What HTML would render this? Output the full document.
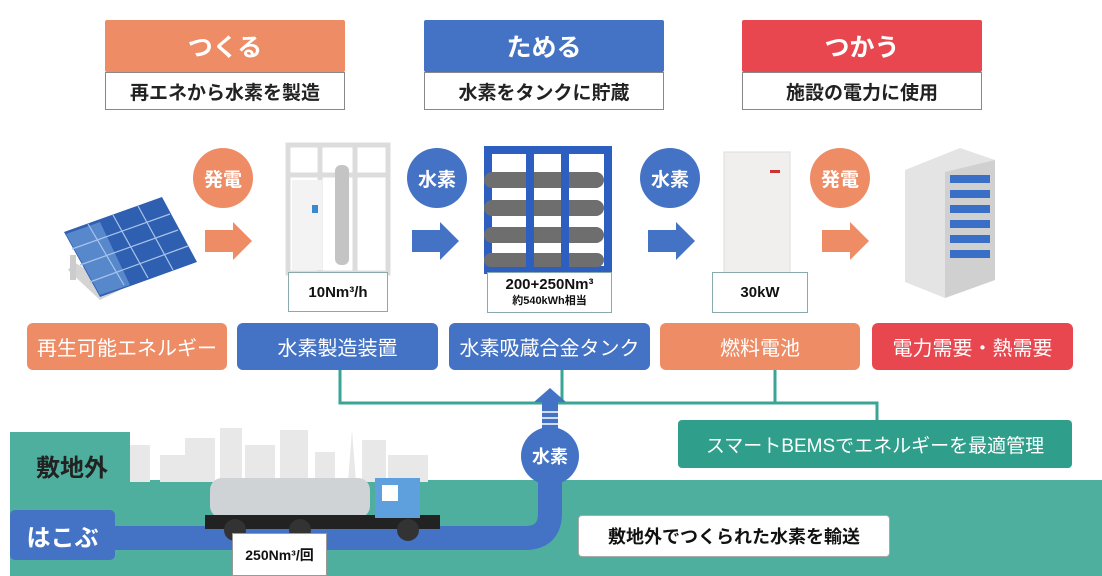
<!DOCTYPE html>
<html><head><meta charset="utf-8"><style>
*{margin:0;padding:0;box-sizing:border-box}
body{width:1102px;height:576px;background:#fff;position:relative;overflow:hidden;font-family:"Liberation Sans","Noto Sans CJK JP",sans-serif}
.a{position:absolute;display:flex;align-items:center;justify-content:center;text-align:center}
.hd{color:#fff;font-size:25px;font-weight:bold;border-radius:2px}
.sub{background:#fff;border:1.5px solid #888;font-size:19px;font-weight:bold;color:#222}
.lb{color:#fff;font-size:20px;border-radius:6px}
.sp{background:#fff;border:1.5px solid #8aa;font-weight:bold;font-size:15px;color:#111}
.c{border-radius:50%;color:#fff;font-size:19px;font-weight:bold}
</style></head><body>
<svg width="1102" height="576" style="position:absolute;left:0;top:0">
<rect x="10" y="432" width="120" height="144" fill="#4eaf9e"/>
<rect x="10" y="480" width="1092" height="96" fill="#4eaf9e"/>
<g fill="#e8e8e8">
<rect x="130" y="445" width="20" height="37"/><rect x="160" y="455" width="25" height="27"/><rect x="185" y="438" width="30" height="44"/><rect x="220" y="428" width="22" height="54"/><rect x="245" y="445" width="30" height="37"/><rect x="280" y="430" width="28" height="52"/><rect x="315" y="452" width="20" height="30"/><polygon points="348,482 352,430 356,482"/><rect x="362" y="440" width="24" height="42"/><rect x="388" y="455" width="40" height="27"/>
</g>
<g stroke="#3aa596" stroke-width="3" fill="none">
<path d="M340 370 V403 H877 V422"/><path d="M562 370 V403"/><path d="M775 370 V403"/>
</g>
<polygon points="550,388 566,402 558,402 558,430 542,430 542,402 534,402" fill="#4472c4"/>
<g stroke="#fff" stroke-width="1.5"><line x1="542" y1="412" x2="558" y2="412"/><line x1="542" y1="418" x2="558" y2="418"/><line x1="542" y1="424" x2="558" y2="424"/></g>
<path d="M110 538 H525 Q550 538 550 513 V470" stroke="#4472c4" stroke-width="24" fill="none"/>
<circle cx="550" cy="456" r="29" fill="#4472c4"/>
<g>
<rect x="205" y="230" width="28" height="22" fill="#ee8c66"/><polygon points="233,222 252,241 233,260" fill="#ee8c66"/>
<rect x="412" y="230" width="28" height="22" fill="#4472c4"/><polygon points="440,222 459,241 440,260" fill="#4472c4"/>
<rect x="648" y="230" width="28" height="22" fill="#4472c4"/><polygon points="676,222 695,241 676,260" fill="#4472c4"/>
<rect x="822" y="230" width="28" height="22" fill="#ee8c66"/><polygon points="850,222 869,241 850,260" fill="#ee8c66"/>
</g>
<!-- solar panel -->
<polygon points="68,270 74,262 120,290 100,300" fill="#d4d4d4"/>
<rect x="70" y="255" width="6" height="25" fill="#ccc"/>
<polygon points="64,232 162,197 197,262 100,297" fill="#2f5fb0"/>
<polygon points="66,234 100,222 130,285 100,295" fill="#6a9ad8" opacity=".7"/>
<g stroke="#a8c4ea" stroke-width="1.2"><line x1="88" y1="224" x2="124" y2="285"/><line x1="113" y1="215" x2="148" y2="278"/><line x1="138" y1="206" x2="173" y2="270"/><line x1="72" y1="249" x2="170" y2="214"/><line x1="80" y1="265" x2="178" y2="230"/><line x1="90" y1="282" x2="188" y2="246"/></g>
<!-- electrolyzer -->
<g fill="none" stroke="#dcdcdc" stroke-width="5">
<rect x="288" y="145" width="100" height="128"/><line x1="320" y1="145" x2="320" y2="273"/><line x1="355" y1="145" x2="355" y2="273"/><line x1="288" y1="175" x2="388" y2="175"/>
</g>
<rect x="292" y="180" width="30" height="90" fill="#f3f3f3"/>
<rect x="335" y="165" width="14" height="100" rx="6" fill="#c4c4c4"/>
<rect x="312" y="205" width="6" height="8" fill="#3a8ad0"/>
<!-- tank -->
<g fill="none" stroke="#2c5fbf" stroke-width="8">
<rect x="488" y="150" width="120" height="120"/><line x1="530" y1="150" x2="530" y2="270"/><line x1="565" y1="150" x2="565" y2="270"/>
</g>
<g fill="#6e6e6e"><rect x="484" y="172" width="120" height="16" rx="8"/><rect x="484" y="200" width="120" height="16" rx="8"/><rect x="484" y="227" width="120" height="16" rx="8"/><rect x="484" y="253" width="120" height="14" rx="7"/></g>
<g fill="#2c5fbf"><rect x="526" y="150" width="8" height="120"/><rect x="561" y="150" width="8" height="120"/></g>
<!-- fuel cell -->
<rect x="724" y="152" width="66" height="122" fill="#f1efed" stroke="#e0dcd8"/>
<rect x="770" y="170" width="10" height="3" fill="#c33"/>
<!-- building -->
<polygon points="905,170 960,148 995,160 995,280 945,298 905,282" fill="#e4e4e4"/>
<polygon points="945,172 995,160 995,280 945,298" fill="#d0d0d0"/>
<g fill="#3a6fc8">
<rect x="950" y="175" width="40" height="8"/><rect x="950" y="190" width="40" height="8"/><rect x="950" y="205" width="40" height="8"/><rect x="950" y="220" width="40" height="8"/><rect x="950" y="235" width="40" height="8"/><rect x="950" y="250" width="40" height="8"/>
</g>
<!-- truck -->
<rect x="210" y="478" width="160" height="40" rx="12" fill="#cfd3d6"/>
<rect x="205" y="515" width="235" height="14" fill="#222"/>
<rect x="375" y="478" width="45" height="40" fill="#5ea0de"/>
<rect x="382" y="485" width="16" height="16" fill="#fff"/>
<g fill="#333"><circle cx="235" cy="530" r="11"/><circle cx="300" cy="530" r="11"/><circle cx="408" cy="530" r="11"/></g>
</svg>

<div class="a hd" style="left:105px;top:20px;width:240px;height:52px;background:#ee8c66">つくる</div>
<div class="a sub" style="left:105px;top:72px;width:240px;height:38px">再エネから水素を製造</div>
<div class="a hd" style="left:424px;top:20px;width:240px;height:52px;background:#4472c4">ためる</div>
<div class="a sub" style="left:424px;top:72px;width:240px;height:38px">水素をタンクに貯蔵</div>
<div class="a hd" style="left:742px;top:20px;width:240px;height:52px;background:#e8474f">つかう</div>
<div class="a sub" style="left:742px;top:72px;width:240px;height:38px">施設の電力に使用</div>

<div class="a c" style="left:193px;top:148px;width:60px;height:60px;background:#ee8c66">発電</div>
<div class="a c" style="left:407px;top:148px;width:60px;height:60px;background:#4472c4">水素</div>
<div class="a c" style="left:640px;top:148px;width:60px;height:60px;background:#4472c4">水素</div>
<div class="a c" style="left:810px;top:148px;width:60px;height:60px;background:#ee8c66">発電</div>

<div class="a sp" style="left:288px;top:272px;width:100px;height:40px">10Nm³/h</div>
<div class="a sp" style="left:487px;top:272px;width:125px;height:41px;flex-direction:column;line-height:17px">200+250Nm³<span style="font-size:11px">約540kWh相当</span></div>
<div class="a sp" style="left:712px;top:272px;width:96px;height:41px">30kW</div>

<div class="a lb" style="left:27px;top:323px;width:200px;height:47px;background:#ee8c66">再生可能エネルギー</div>
<div class="a lb" style="left:237px;top:323px;width:201px;height:47px;background:#4472c4">水素製造装置</div>
<div class="a lb" style="left:449px;top:323px;width:201px;height:47px;background:#4472c4">水素吸蔵合金タンク</div>
<div class="a lb" style="left:660px;top:323px;width:200px;height:47px;background:#ee8c66">燃料電池</div>
<div class="a lb" style="left:872px;top:323px;width:201px;height:47px;background:#e8474f">電力需要・熱需要</div>

<div class="a lb" style="left:678px;top:420px;width:394px;height:48px;background:#2f9e8a;border-radius:4px;font-size:19px">スマートBEMSでエネルギーを最適管理</div>

<div class="a" style="left:22px;top:447px;width:100px;height:36px;font-size:24px;font-weight:bold;color:#222">敷地外</div>
<div class="a" style="left:10px;top:510px;width:105px;height:50px;background:#4472c4;border-radius:5px;color:#fff;font-size:24px;font-weight:bold">はこぶ</div>
<div class="a c" style="left:521px;top:427px;width:58px;height:58px;font-size:18px">水素</div>
<div class="a sp" style="left:232px;top:533px;width:95px;height:43px;font-size:14px;border-color:#999">250Nm³/回</div>
<div class="a sp" style="left:578px;top:515px;width:312px;height:42px;font-size:18px;border-radius:4px;border-color:#aaa">敷地外でつくられた水素を輸送</div>
</body></html>
